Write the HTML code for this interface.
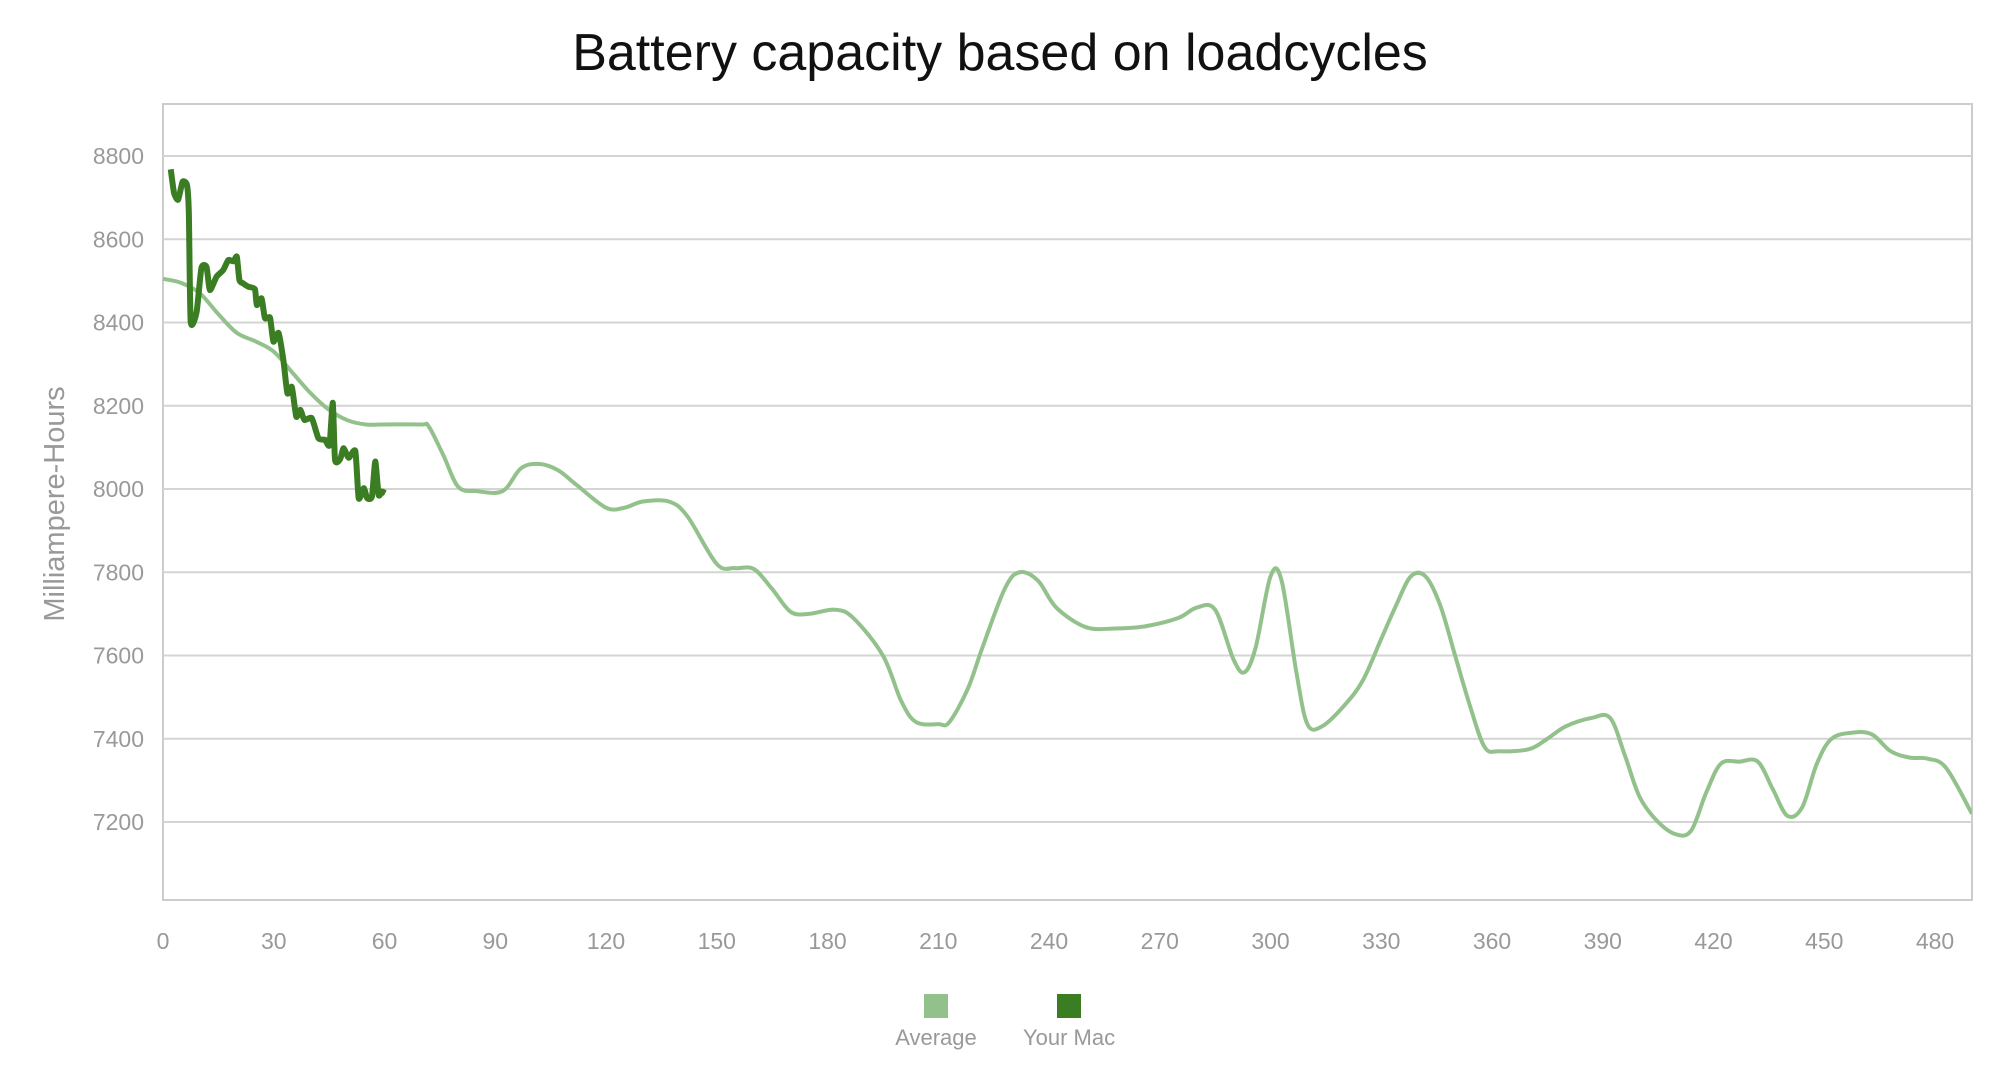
<!DOCTYPE html>
<html><head><meta charset="utf-8"><style>
body{margin:0;background:#fff;font-family:"Liberation Sans",sans-serif;}
svg text{font-family:"Liberation Sans",sans-serif;}
</style></head><body>
<svg id="chart" width="2000" height="1071" viewBox="0 0 2000 1071" xmlns="http://www.w3.org/2000/svg">
<text x="1000" y="70" text-anchor="middle" font-size="52" fill="#111">Battery capacity based on loadcycles</text>
<text transform="translate(64,504) rotate(-90)" text-anchor="middle" font-size="29" fill="#999">Milliampere-Hours</text>
<g id="grid"></g><g id="series"></g>
<g>
<rect x="924" y="994" width="24" height="24" fill="#93c18c"/>
<text x="936" y="1045" text-anchor="middle" font-size="22" fill="#999">Average</text>
<rect x="1057" y="994" width="24" height="24" fill="#3a7d22"/>
<text x="1069" y="1045" text-anchor="middle" font-size="22" fill="#999">Your Mac</text>
</g>
</svg>
<script>
const yTicks=[7200,7400,7600,7800,8000,8200,8400,8600,8800];
const xTicks=[0,30,60,90,120,150,180,210,240,270,300,330,360,390,420,450,480];
const avgX=[0,5,10,15,20,25,30,35,40,45,50,55,60,70,72,76,80,85,92,97,102,107,112,120,125,130,137,142,150,155,160,165,170,175,182,187,195,200,204,210,213,218,222,228,232,237,242,250,258,266,275,280,285,290,293,296,300,303,307,310,314,320,325,330,334,338,342,346,350,354,358,362,370,375,380,387,392,396,400,405,410,414,418,422,427,432,436,440,444,448,452,458,463,468,473,478,483,490];
const avgY=[8505,8495,8470,8420,8375,8355,8330,8280,8230,8190,8165,8155,8155,8155,8150,8080,8005,7995,7995,8050,8060,8045,8010,7955,7955,7970,7970,7935,7820,7810,7808,7760,7705,7700,7710,7690,7600,7490,7440,7435,7440,7520,7620,7760,7800,7780,7715,7668,7665,7670,7690,7715,7710,7590,7560,7620,7790,7780,7560,7435,7430,7480,7540,7640,7720,7790,7790,7720,7600,7480,7380,7370,7375,7400,7430,7450,7450,7360,7260,7200,7170,7180,7270,7340,7345,7345,7280,7215,7235,7340,7400,7415,7410,7370,7355,7352,7330,7220];
const macX=[2.1,3.0,4.1,5.3,6.5,7.0,7.5,9.1,10.4,11.8,12.7,14.5,16.3,17.7,19.1,20.0,20.7,21.7,23.1,24.9,25.4,26.7,27.6,29.0,29.9,31.3,32.6,33.7,34.9,36.1,37.2,38.3,40.3,42.1,43.9,45.1,46.0,46.6,48.0,48.9,50.3,52.1,53.0,54.4,55.3,56.6,57.5,58.4,59.3,60.2];
const macY=[8768,8711,8695,8738,8730,8663,8402,8425,8531,8533,8478,8510,8526,8550,8547,8558,8502,8494,8486,8480,8442,8458,8411,8411,8354,8375,8310,8230,8245,8174,8190,8166,8170,8122,8118,8106,8207,8070,8072,8098,8075,8091,7978,8002,7978,7982,8066,7986,7994,7990];
const L=163,R=1972,T=104,B=900;
const xs=v=>163+v*(1772/480);
const ys=v=>156+(8800-v)*(666/1600);
const NS='http://www.w3.org/2000/svg';
const grid=document.getElementById('grid'),ser=document.getElementById('series');
function mk(tag,attrs,parent){const e=document.createElementNS(NS,tag);for(const k in attrs)e.setAttribute(k,attrs[k]);parent.appendChild(e);return e;}
let r=mk('rect',{x:L,y:T,width:R-L,height:B-T,fill:'none',stroke:'#ccc','stroke-width':2},grid);


yTicks.forEach(t=>{
 const l=mk('line',{x1:L,x2:R,y1:ys(t),y2:ys(t),stroke:'#d4d4d4','stroke-width':2},grid);
 
 
 const tx=mk('text',{x:L-19,y:ys(t)+8,'text-anchor':'end','font-size':23,fill:'#999'},grid);
 tx.textContent=t;
 
 
});
xTicks.forEach(t=>{
 const tx=mk('text',{x:xs(t),y:949,'text-anchor':'middle','font-size':23,fill:'#999'},grid);
 tx.textContent=t;
 
 
});
function path(X,Y,ten){
 const p=X.map((x,i)=>[xs(x),ys(Y[i])]);
 let d='M'+p[0][0]+','+p[0][1];
 for(let i=0;i<p.length-1;i++){
  const p0=p[Math.max(0,i-1)],p1=p[i],p2=p[i+1],p3=p[Math.min(p.length-1,i+2)];
  const c1=[p1[0]+(p2[0]-p0[0])*ten,p1[1]+(p2[1]-p0[1])*ten];
  const c2=[p2[0]-(p3[0]-p1[0])*ten,p2[1]-(p3[1]-p1[1])*ten];
  d+='C'+c1[0]+','+c1[1]+' '+c2[0]+','+c2[1]+' '+p2[0]+','+p2[1];
 }
 return d;
}
const clip=mk('clipPath',{id:'cp'},ser);mk('rect',{x:L,y:T,width:R-L,height:B-T},clip);
const a=mk('path',{d:path(avgX,avgY,1/6),fill:'none',stroke:'#93c18c','stroke-width':4,'stroke-linejoin':'round','clip-path':'url(#cp)'},ser);


const m=mk('path',{d:path(macX,macY,0.1),fill:'none',stroke:'#3a7d22','stroke-width':6,'stroke-linejoin':'round'},ser);


</script>
</body></html>
